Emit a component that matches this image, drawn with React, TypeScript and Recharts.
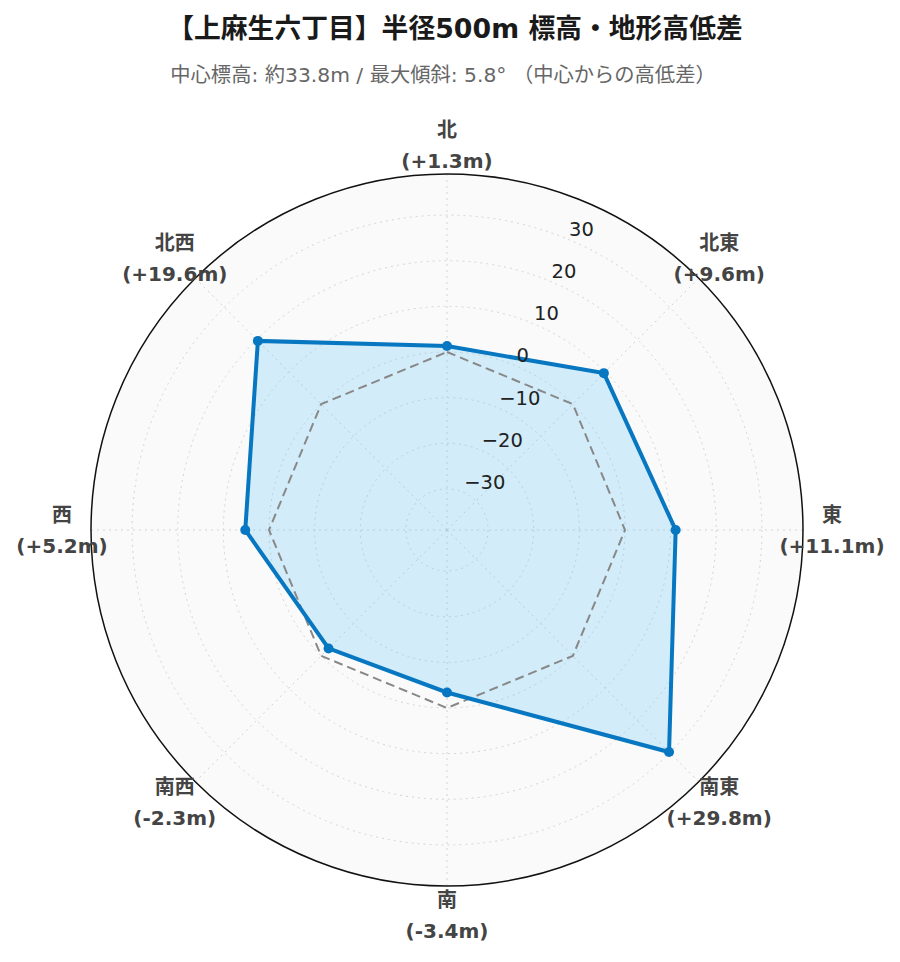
import React from 'react';
import { RadarChart, Radar, PolarGrid, PolarAngleAxis, PolarRadiusAxis } from 'recharts';

const directions = ['北', '北東', '東', '南東', '南', '南西', '西', '北西'];
const elevationDiffs = [1.3, 9.6, 11.1, 29.8, -3.4, -2.3, 5.2, 19.6];
const referenceLevel = [0, 0, 0, 0, 0, 0, 0, 0];
const radiusTicks = [-30, -20, -10, 0, 10, 20, 30];
const radiusDomain = [-38.6, 38.8];

const TITLE = '【上麻生六丁目】半径500m 標高・地形高低差';
const SUBTITLE = '中心標高: 約33.8m / 最大傾斜: 5.8° （中心からの高低差）';

const W = 900;
const H = 962;
const CX = 447;
const CY = 530;
const R = 356;
const BLUE = '#0877c1';
const FONT = "'DejaVu Sans', 'Noto Sans CJK JP', sans-serif";

const data = directions.map((d, i) => ({
  dir: d,
  diff: elevationDiffs[i],
  ref: referenceLevel[i],
}));

const fmtDiff = (v: number) => `(${v >= 0 ? '+' : '-'}${Math.abs(v).toFixed(1)}m)`;

const AngleTick = (props: any) => {
  const { x, y, payload } = props;
  const idx = directions.indexOf(payload.value);
  const v = elevationDiffs[idx];
  return (
    <g>
      <text x={x} y={y - 15} dy="0.35em" textAnchor="middle" fontSize={20} fontWeight="bold" fill="#444"
        fontFamily={FONT}>{payload.value}</text>
      <text x={x} y={y + 16} dy="0.35em" textAnchor="middle" fontSize={20} fontWeight="bold" fill="#444"
        fontFamily={FONT}>{fmtDiff(v)}</text>
    </g>
  );
};

const RadiusTick = (props: any) => {
  const { x, y, payload } = props;
  const v = Number(payload.value);
  const label = v < 0 ? `\u2212${Math.abs(v)}` : `${v}`;
  return (
    <text x={x + 1.5} y={y - 10} dy="0.35em" textAnchor="start" fontSize={19.5} fill="#222"
      fontFamily={FONT}>{label}</text>
  );
};

const renderDot = (props: any) => {
  const { cx, cy, index } = props;
  return <circle key={`dot-${index}`} cx={cx} cy={cy} r={5} fill={BLUE} stroke="none" />;
};

export default function App() {
  return (
    <div style={{ position: 'absolute', left: 0, top: 0, width: W, height: H, background: '#fff', overflow: 'hidden' }}>
      <div style={{ position: 'absolute', left: 455, top: 15, transform: 'translateX(-50%)', whiteSpace: 'pre',
        fontFamily: FONT, fontWeight: 'bold', fontSize: 26.8, lineHeight: '27px', color: '#1a1a1a' }}>
        {TITLE}
      </div>
      <div style={{ position: 'absolute', left: 443, top: 65, transform: 'translateX(-50%)', whiteSpace: 'pre',
        fontFamily: FONT, fontSize: 20.3, lineHeight: '21px', color: '#666' }}>
        {SUBTITLE}
      </div>
      <svg width={W} height={H} style={{ position: 'absolute', left: 0, top: 0 }}>
        <circle cx={CX} cy={CY} r={R} fill="#fafafa" />
      </svg>
      <div style={{ position: 'absolute', left: 0, top: 0 }}>
        <RadarChart width={W} height={H} data={data} cx={CX} cy={CY} outerRadius={R}
          margin={{ top: 0, right: 0, bottom: 0, left: 0 }}>
          <PolarGrid gridType="circle" stroke="#d4d4d4" strokeDasharray="2 4" />
          <PolarAngleAxis dataKey="dir" tick={<AngleTick />} tickLine={false} tickSize={29}
            axisLineType="circle" axisLine={{ stroke: '#111', strokeWidth: 1.5 }} />
          <PolarRadiusAxis angle={67.5} type="number" domain={radiusDomain} ticks={radiusTicks}
            axisLine={false} tickLine={false} tick={<RadiusTick />} />
          <Radar dataKey="diff" stroke="none" fill="#62c6f6" fillOpacity={0.26} dot={false} isAnimationActive={false} />
          <Radar dataKey="ref" stroke="#888" strokeWidth={2} strokeDasharray="9 5" fill="none" fillOpacity={0}
            dot={false} isAnimationActive={false} />
          <Radar dataKey="diff" stroke={BLUE} strokeWidth={4} fill="none" fillOpacity={0}
            dot={renderDot} isAnimationActive={false} />
        </RadarChart>
      </div>
    </div>
  );
}
